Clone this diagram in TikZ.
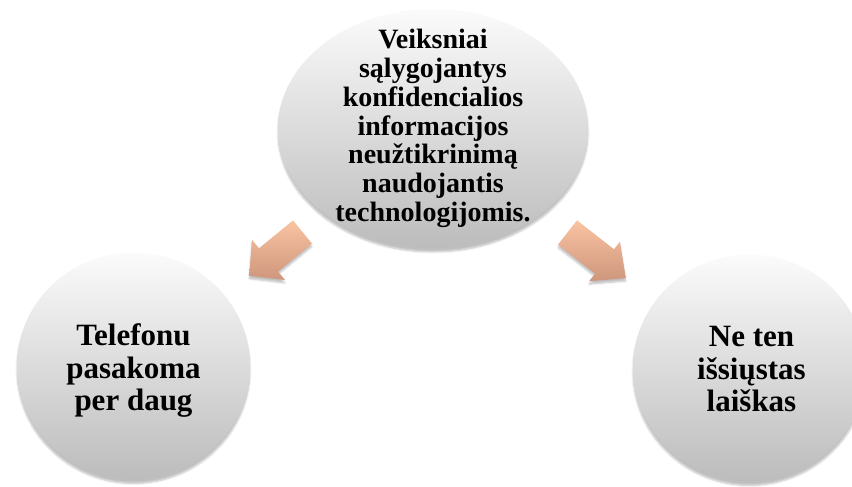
\documentclass[tikz,border=0pt]{standalone}
\usepackage{fontspec}
\setmainfont{Liberation Serif}
\usetikzlibrary{shapes.geometric,shadows.blur}

\definecolor{bubbletop}{RGB}{251,251,251}
\definecolor{bubblebottom}{RGB}{188,188,188}
\definecolor{arrowtop}{RGB}{250,195,162}
\definecolor{arrowbottom}{RGB}{206,150,124}

\tikzset{
  bubble/.style={ellipse, draw=none, inner sep=0pt,
    top color=bubbletop, bottom color=bubblebottom,
    blur shadow={shadow xshift=0pt, shadow yshift=-4pt,
      shadow blur steps=6, shadow opacity=25}},
  bigtext/.style={align=center, inner sep=0pt,
    font=\bfseries\fontsize{28}{28.8}\selectfont},
  smalltext/.style={align=center, inner sep=0pt,
    font=\bfseries\fontsize{31}{32.5}\selectfont},
  blockarrow/.style={draw=none, top color=arrowtop, bottom color=arrowbottom,
    blur shadow={shadow xshift=0pt, shadow yshift=-3pt,
      shadow blur steps=5, shadow opacity=25}},
}

\begin{document}
\begin{tikzpicture}[x=1pt, y=-1pt]
  \useasboundingbox (0,0) rectangle (852,487);
  \clip (0,0) rectangle (852,487);

  % central cause
  \node[bubble, minimum width=310pt, minimum height=239pt] (cause) at (433,128.5) {};
  \node[bigtext] (causetext) at (cause.center)
    {Veiksniai\\sąlygojantys\\konfidencialios\\informacijos\\neužtikrinimą\\naudojantis\\technologijomis.};

  % left consequence
  \node[bubble, minimum width=233pt, minimum height=227pt] (phone) at (133.5,366) {};
  \node[smalltext] (phonetext) at ([yshift=-5pt]phone.center)
    {Telefonu\\pasakoma\\per daug};

  % right consequence
  \node[bubble, minimum width=233pt, minimum height=227pt] (mail) at (749.5,368) {};
  \node[smalltext] (mailtext) at ([xshift=2pt,yshift=-1pt]mail.center)
    {Ne ten\\išsiųstas\\laiškas};

  % block arrows
  \path[blockarrow] (293,220.4) -- (312,243.6) -- (278,271.5) -- (285,280)
    -- (249.2,275.8) -- (252,239.8) -- (259,248.3) -- cycle;
  \path[blockarrow] (577,220.3) -- (614,249.3) -- (619.9,241.8) -- (625.8,278.1)
    -- (589.1,281.2) -- (595,273.7) -- (558,244.7) -- cycle;
\end{tikzpicture}
\end{document}
